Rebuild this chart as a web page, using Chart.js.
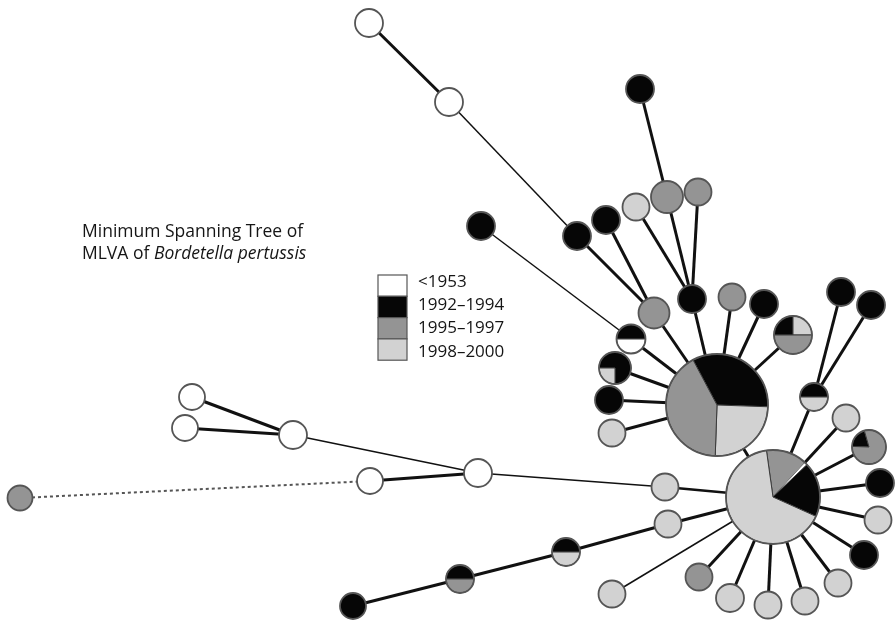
<!DOCTYPE html>
<html>
<head>
<meta charset="utf-8">
<script src="https://cdn.jsdelivr.net/npm/chart.js@4/dist/chart.umd.min.js"></script>
<style>
  html, body { margin: 0; padding: 0; background: #fff; }
  #wrap { width: 895px; height: 623px; }
</style>
</head>
<body>
<div id="wrap"><canvas id="mst" width="895" height="623"></canvas></div>
<script>
// legend categories (isolation periods)
const categories = ['<1953', '1992\u20131994', '1995\u20131997', '1998\u20132000'];
const categoryColors = ['#ffffff', '#060606', '#949494', '#d2d2d2'];

// node layout (x, y in picture units)
const nodeX = [369, 449, 577, 481, 606, 640, 667, 698, 636, 654,
               692, 732, 764, 793, 631, 615, 609, 612, 717, 841,
               871, 814, 846, 869, 880, 878, 864, 838, 805, 768,
               730, 699, 612, 668, 665, 773, 566, 460, 353, 478,
               370, 20, 293, 192, 185];
const nodeY = [23, 102, 236, 226, 220, 89, 197, 192, 207, 313,
               299, 297, 304, 335, 339, 368, 400, 433, 405, 292,
               305, 397, 418, 447, 483, 520, 555, 583, 601, 605,
               598, 577, 594, 524, 487, 497, 552, 579, 606, 473,
               481, 498, 435, 397, 428];
const nodeSize = [14, 14, 14, 14, 14, 14, 16, 13.5, 13.5, 15.5,
                  14, 13.5, 14, 19, 14.5, 16, 14, 13.5, 51, 14,
                  14, 14, 13.5, 17, 14, 13.5, 14, 13.5, 13.5, 13.5,
                  14, 13.5, 13.5, 13.5, 13.5, 47, 14, 14, 13, 14,
                  13, 12.5, 14, 13, 13];
// isolates per node: [category, count] in drawing order
const nodeSlices = [
  [[0, 1]], [[0, 1]], [[1, 1]], [[1, 1]], [[1, 1]], [[1, 1]], [[2, 1]], [[2, 1]], [[3, 1]], [[2, 1]],
  [[1, 1]], [[2, 1]], [[1, 1]], [[1, 1], [3, 1], [2, 2]], [[1, 1], [0, 1]], [[1, 3], [3, 1]], [[1, 1]], [[3, 1]],
  [[1, 4], [3, 3], [2, 5]], [[1, 1]],
  [[1, 1]], [[1, 1], [3, 1]], [[3, 1]], [[1, 1], [2, 4]], [[1, 1]], [[3, 1]], [[1, 1]], [[3, 1]], [[3, 1]], [[3, 1]],
  [[3, 1]], [[2, 1]], [[3, 1]], [[3, 1]], [[3, 1]], [[2, 3], [0, 0.2], [1, 4], [3, 14]], [[1, 1], [3, 1]], [[1, 1], [2, 1]], [[1, 1]], [[0, 1]],
  [[0, 1]], [[2, 1]], [[0, 1]], [[0, 1]], [[0, 1]]
];
const sliceStart = [0, 0, 0, 0, 0, 0, 0, 0, 0, 0,
                    0, 0, 0, -180, 180, 180, 0, 0, -118, 0,
                    0, 180, 0, -178, 0, 0, 0, 0, 0, 0,
                    0, 0, 0, 0, 0, -98, 180, 180, 0, 0,
                    0, 0, 0, 0, 0];

// tree edges
const edgeFrom  = [0, 1, 2, 4, 5, 6, 7, 8, 3, 9, 10, 11, 12, 13, 14, 15, 16, 17, 18, 19, 20, 21, 22, 23,
                   24, 25, 26, 27, 28, 29, 30, 31, 32, 33, 34, 38, 37, 36, 39, 40, 41, 42, 43, 44];
const edgeTo    = [1, 2, 9, 9, 6, 10, 10, 10, 14, 18, 18, 18, 18, 18, 18, 18, 18, 18, 35, 21, 21, 35, 35, 35,
                   35, 35, 35, 35, 35, 35, 35, 35, 35, 35, 35, 37, 36, 33, 34, 39, 40, 39, 42, 42];
const edgeWidth = [3, 1.5, 3, 3, 3, 3, 3, 3, 1.5, 3, 3, 3, 3, 3, 3, 3, 3, 3, 3, 3, 3, 3, 3, 3,
                   3, 3, 3, 3, 3, 3, 3, 3, 1.5, 3, 2.5, 3, 3, 3, 1.5, 3, 2, 1.5, 3, 3];
const edgeDashed = edgeFrom.map((f, i) => f === 41);

const titleLine1 = 'Minimum Spanning Tree of';
const titleLine2a = 'MLVA of ';
const titleLine2b = 'Bordetella pertussis';

const edgeSets = edgeFrom.map((f, i) => ({
  type: 'line',
  data: [{x: nodeX[f], y: nodeY[f]}, {x: nodeX[edgeTo[i]], y: nodeY[edgeTo[i]]}],
  borderColor: edgeDashed[i] ? '#555' : '#111',
  borderWidth: edgeWidth[i],
  borderDash: edgeDashed[i] ? [3, 3] : [],
  pointRadius: 0,
  showLine: true,
  clip: false,
  order: 2
}));

const nodeSet = {
  type: 'scatter',
  data: nodeX.map((x, i) => ({x: x, y: nodeY[i]})),
  pointRadius: 0,
  clip: false,
  order: 1
};

const pieNodes = {
  id: 'pieNodes',
  afterDatasetsDraw(chart) {
    const ctx = chart.ctx;
    const meta = chart.getDatasetMeta(chart.data.datasets.length - 1);
    ctx.save();
    meta.data.forEach((pt, i) => {
      const r = nodeSize[i];
      const parts = nodeSlices[i];
      const total = parts.reduce((s, p) => s + p[1], 0);
      let a = sliceStart[i] * Math.PI / 180;
      parts.forEach(([c, n]) => {
        const da = n / total * Math.PI * 2;
        ctx.beginPath();
        if (parts.length > 1) ctx.moveTo(pt.x, pt.y);
        ctx.arc(pt.x, pt.y, r, a, a + da);
        ctx.closePath();
        ctx.fillStyle = categoryColors[c];
        ctx.fill();
        if (parts.length > 1 && n >= 1) {
          ctx.strokeStyle = '#3a3a3a';
          ctx.lineWidth = 1;
          ctx.stroke();
        }
        a += da;
      });
      ctx.beginPath();
      ctx.arc(pt.x, pt.y, r, 0, Math.PI * 2);
      ctx.strokeStyle = '#555';
      ctx.lineWidth = 1.8;
      ctx.stroke();
    });
    ctx.restore();
  }
};

const keyAndTitle = {
  id: 'keyAndTitle',
  afterDraw(chart) {
    const ctx = chart.ctx;
    ctx.save();
    // title
    ctx.fillStyle = '#151515';
    ctx.textBaseline = 'alphabetic';
    ctx.font = '17.5px "Open Sans"';
    ctx.fillText(titleLine1, 82, 237);
    ctx.fillText(titleLine2a, 82, 259);
    const w = ctx.measureText(titleLine2a).width;
    ctx.font = 'italic 17.5px "Open Sans"';
    ctx.fillText(titleLine2b, 82 + w, 259);
    // key
    const bx = 378, by = 275, bw = 29, bh = 21.3;
    categories.forEach((c, i) => {
      ctx.fillStyle = categoryColors[i];
      ctx.fillRect(bx, by + i * bh, bw, bh);
      ctx.strokeStyle = '#555';
      ctx.lineWidth = 1.2;
      ctx.strokeRect(bx, by + i * bh, bw, bh);
      ctx.fillStyle = '#151515';
      ctx.font = '17px "Open Sans"';
      ctx.textBaseline = 'middle';
      ctx.fillText(c, 418, 282 + i * 23.3);
    });
    ctx.restore();
  }
};

new Chart(document.getElementById('mst'), {
  type: 'scatter',
  data: { datasets: [...edgeSets, nodeSet] },
  options: {
    responsive: false,
    animation: false,
    layout: { padding: 0 },
    plugins: { legend: { display: false }, tooltip: { enabled: false } },
    scales: {
      x: { type: 'linear', min: 0, max: 895, display: false },
      y: { type: 'linear', min: 0, max: 623, reverse: true, display: false }
    }
  },
  plugins: [pieNodes, keyAndTitle]
});
</script>
</body>
</html>
